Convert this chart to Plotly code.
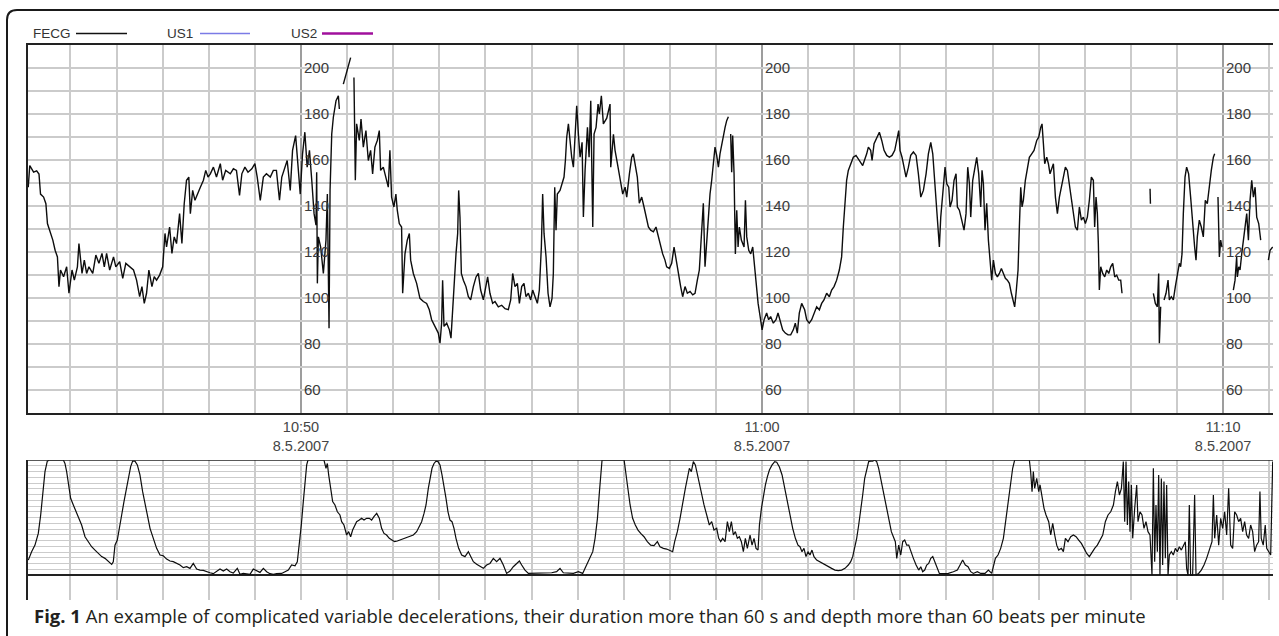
import plotly.graph_objects as go

W, H = 1279, 636

# ---------------- data (time = seconds since 10:44:00, 8.5.2007) ----------------
time_tick_vals = [360, 960, 1560]
time_tick_text = ["10:50<br>8.5.2007", "11:00<br>8.5.2007", "11:10<br>8.5.2007"]
bpm_label_vals = [60, 80, 100, 120, 140, 160, 180, 200]
legend_names = ["FECG", "US1", "US2"]
legend_colors = ["#111111", "#7b7be6", "#a0109c"]
caption_bold = "Fig. 1"
caption_text = ("An example of complicated variable decelerations, their duration more than 60 s "
                "and depth more than 60 beats per minute")

# fetal heart rate (bpm); None marks signal loss
fhr_samples = [
    (5, 148.0), (7, 157.4), (12, 154.5), (16, 155.1), (19, 153.7), (21, 145.0), (25, 143.7),
    (28, 140.8), (30, 132.2), (33, 129.3), (37, 125.0), (40, 120.6), (43, 117.7), (45, 104.8),
    (47, 112.0), (51, 109.1), (55, 113.4), (58, 101.9), (62, 112.0), (65, 107.6), (69, 113.4),
    (71, 123.5), (75, 110.5), (78, 116.3), (81, 110.5), (84, 113.4), (89, 110.5), (93, 118.5),
    (97, 114.9), (101, 119.2), (104, 113.4), (107, 119.2), (111, 112.0), (116, 117.7),
    (119, 113.4), (124, 115.6), (128, 108.4), (132, 114.9), (137, 113.4), (142, 112.0),
    (146, 107.6), (150, 100.4), (153, 104.8), (156, 97.5), (159, 101.9), (162, 112.0),
    (166, 104.8), (169, 109.1), (172, 107.6), (176, 109.8), (180, 113.4), (183, 127.9),
    (185, 122.0), (189, 130.7), (192, 119.2), (195, 126.4), (198, 123.5), (202, 136.5),
    (205, 123.5), (208, 140.8), (211, 151.0), (214, 152.4), (216, 136.5), (219, 146.6),
    (222, 142.3), (225, 145.0), (229, 148.0), (233, 151.0), (236, 155.3), (239, 152.4),
    (242, 153.8), (246, 156.7), (250, 152.4), (255, 158.2), (258, 151.0), (262, 155.3),
    (268, 153.8), (272, 156.0), (276, 155.3), (280, 144.4), (283, 153.8), (287, 156.7),
    (291, 154.5), (296, 156.0), (300, 158.2), (303, 152.4), (307, 142.3), (311, 152.4),
    (315, 153.8), (320, 152.4), (324, 155.3), (328, 155.3), (332, 142.3), (335, 152.4),
    (339, 156.7), (342, 159.6), (346, 146.6), (349, 164.0), (353, 170.4), (356, 156.7),
    (359, 145.0), (362, 162.5), (365, 171.9), (368, 156.7), (371, 164.0), (374, 151.0),
    (377, 136.5), (379.5, 131.5), (380.4, 154.5), (381.3, 106.2), (382.6, 126.4),
    (385.6, 122.0), (389.1, 110.5), (392.5, 125.0), (394.3, 145.0), (396.5, 86.7),
    (397.8, 146.6), (400.0, 171.1), (402.1, 178.4), (405.6, 185.6), (408.6, 187.7),
    (409.9, 182.0), (411, None), (415.1, 192.8), (419.4, 198.6), (424.6, 204.3), (426, None),
    (428.9, 195.7), (430.7, 151.0), (432.4, 175.5), (435.9, 168.3), (438.1, 177.6),
    (441.1, 165.4), (444.5, 172.6), (447.6, 159.6), (450.6, 164.0), (453.2, 153.8),
    (456.2, 165.4), (459.3, 168.3), (461.9, 172.6), (463.6, 155.3), (467.1, 156.7),
    (470.5, 152.4), (473.6, 148.0), (475.7, 164.0), (477.9, 143.7), (480.9, 139.4),
    (483.5, 145.0), (485.3, 138.0), (487.9, 132.2), (490.9, 130.7), (492.3, 101.9),
    (495.3, 119.0), (498.3, 125.0), (501.0, 127.9), (502.7, 116.3), (506.2, 110.5),
    (510.5, 106.2), (514.8, 99.7), (519.2, 98.3), (523.5, 97.5), (527.0, 94.7), (530.0, 90.4),
    (534.4, 87.5), (538.7, 84.6), (540.9, 80.2), (543.0, 88.9), (544.3, 107.6), (546.1, 87.5),
    (549.6, 88.9), (553.1, 86.0), (555.2, 82.4), (557.4, 96.0), (559.6, 107.6), (561.7, 119.0),
    (563.9, 127.9), (565.2, 146.6), (566.9, 135.0), (568.7, 110.5), (571.3, 107.6),
    (574.7, 104.8), (577.8, 100.4), (580.8, 99.0), (584.3, 104.8), (587.8, 109.0),
    (590.8, 110.5), (593.8, 103.3), (597.3, 99.0), (600.3, 104.8), (602.9, 109.0),
    (605.9, 101.9), (609.4, 97.5), (612.5, 98.3), (616.8, 96.0), (621.2, 96.7), (625.5, 95.2),
    (629.8, 94.8), (632.9, 99.0), (635.5, 110.5), (638.5, 104.8), (641.6, 106.2), (644.2, 97.5),
    (647.2, 104.8), (650.2, 106.2), (652.8, 100.4), (655.9, 101.9), (658.9, 99.0),
    (661.5, 103.3), (664.6, 100.4), (667.6, 97.5), (670.2, 103.3), (672.8, 122.0),
    (674.5, 145.0), (676.3, 127.9), (678.9, 117.7), (681.5, 101.9), (684.1, 96.0),
    (686.7, 99.7), (688.4, 110.5), (690.2, 148.0), (691.9, 129.3), (693.6, 145.0),
    (697.1, 146.6), (699.7, 149.5), (702.3, 152.4), (704.1, 159.6), (705.8, 169.7),
    (708.0, 175.5), (710.1, 166.9), (712.3, 161.0), (714.5, 156.7), (716.7, 168.3),
    (718.8, 183.4), (721.0, 171.1), (723.2, 161.0), (725.8, 167.5), (727.5, 135.0),
    (729.7, 155.3), (732.8, 174.0), (734.9, 161.0), (737.1, 185.6), (739.7, 130.7),
    (741.4, 171.1), (744.0, 174.0), (746.6, 184.1), (748.3, 179.8), (750.9, 187.7),
    (753.5, 175.5), (757.9, 178.0), (762.2, 184.1), (763.1, 156.7), (766.6, 171.0),
    (768.7, 164.0), (771.8, 158.2), (775.2, 152.4), (778.7, 145.0), (781.8, 148.0),
    (783.9, 143.7), (787.4, 153.8), (790.4, 161.0), (792.5, 162.5), (795.1, 156.7),
    (797.7, 152.4), (800.3, 141.0), (803.4, 143.7), (806.4, 139.4), (809.0, 135.0),
    (812.1, 130.7), (815.1, 129.3), (818.6, 128.6), (822.0, 130.7), (825.1, 126.4),
    (828.1, 122.0), (830.7, 119.0), (833.7, 116.3), (835.9, 113.4), (839.4, 112.7),
    (842.4, 114.9), (845.5, 122.0), (848.1, 116.3), (851.1, 110.5), (854.1, 104.8),
    (856.7, 100.4), (859.8, 104.8), (862.8, 101.9), (866.3, 102.7), (869.8, 101.2),
    (872.8, 101.9), (875.8, 107.6), (878.4, 112.0), (881.5, 129.3), (883.6, 141.0),
    (885.8, 113.4), (888.0, 125.0), (890.1, 133.7), (892.3, 145.0), (894.5, 151.0),
    (896.7, 159.6), (898.8, 165.4), (901.0, 161.8), (903.2, 156.7), (905.3, 162.5),
    (907.5, 166.9), (909.7, 169.7), (911.9, 174.0), (914.0, 176.9), (916.2, 178.6),
    (917.5, None), (919.2, 171.1), (920.5, 154.5), (921.8, 170.4), (923.6, 153.8),
    (925.3, 119.0), (927.1, 138.0), (928.8, 122.0), (930.5, 130.7), (933.1, 125.0),
    (936.6, 122.0), (938.4, 142.3), (940.1, 126.4), (942.7, 120.6), (945.3, 119.0),
    (947.9, 122.0), (949.6, 116.3), (952.3, 104.8), (954.9, 97.5), (957.5, 91.8),
    (960.1, 86.0), (962.7, 90.4), (966.0, 93.3), (968.6, 90.4), (971.2, 91.8), (974.7, 88.9),
    (978.2, 90.4), (980.8, 93.3), (983.4, 90.4), (986.9, 86.0), (990.3, 84.6), (993.8, 83.8),
    (997.3, 83.8), (1000.7, 86.0), (1003.3, 88.9), (1005.9, 84.6), (1008.5, 93.3),
    (1011.6, 97.5), (1013.7, 96.0), (1015.5, 94.7), (1018.1, 90.4), (1021.5, 88.9),
    (1024.6, 90.4), (1027.6, 93.3), (1031.1, 96.0), (1034.6, 94.7), (1037.6, 97.5),
    (1040.6, 99.0), (1044.1, 101.9), (1047.6, 100.4), (1050.6, 103.3), (1053.7, 104.8),
    (1057.1, 107.6), (1060.6, 112.0), (1063.6, 117.7), (1065.8, 130.7), (1068.0, 142.3),
    (1070.1, 151.0), (1072.3, 155.3), (1075.4, 158.2), (1078.8, 161.0), (1082.3, 161.8),
    (1085.3, 160.3), (1088.4, 158.9), (1091.0, 157.4), (1096.2, 162.5), (1098.4, 165.4),
    (1101.4, 164.0), (1103.2, 159.6), (1105.8, 166.9), (1109.2, 169.7), (1112.7, 171.9),
    (1115.8, 168.3), (1118.8, 164.0), (1122.3, 161.8), (1125.7, 161.0), (1129.2, 161.8),
    (1132.7, 164.0), (1135.3, 168.3), (1137.9, 172.6), (1139.6, 164.0), (1142.2, 161.0),
    (1144.8, 156.7), (1147.4, 152.4), (1150.5, 156.7), (1153.5, 161.8), (1157.0, 163.3),
    (1160.5, 161.8), (1163.5, 153.8), (1166.6, 143.7), (1170.0, 146.6), (1173.5, 153.8),
    (1176.5, 162.5), (1179.6, 167.5), (1182.2, 162.5), (1184.8, 151.0), (1187.4, 136.5),
    (1189.1, 132.2), (1190.8, 122.0), (1192.6, 135.0), (1195.2, 145.0), (1198.2, 156.7),
    (1200.4, 149.5), (1203.0, 148.0), (1204.7, 139.4), (1207.3, 142.3), (1209.9, 151.0),
    (1212.5, 153.8), (1214.2, 139.4), (1216.8, 138.0), (1219.9, 133.7), (1222.9, 129.3),
    (1225.5, 136.5), (1227.7, 156.7), (1229.9, 149.5), (1231.6, 135.0), (1234.2, 151.0),
    (1236.8, 155.3), (1239.4, 161.0), (1242.0, 153.8), (1244.6, 139.4), (1246.3, 155.3),
    (1248.1, 149.5), (1250.2, 129.3), (1252.4, 141.0), (1254.6, 125.0), (1256.7, 117.7),
    (1258.9, 107.6), (1261.1, 116.3), (1263.7, 110.5), (1266.3, 109.0), (1268.9, 110.5),
    (1271.5, 112.7), (1274.1, 110.5), (1276.7, 108.4), (1279.3, 107.6), (1281.9, 106.2),
    (1284.5, 101.9), (1287.1, 97.5), (1288.8, 96.0), (1290.6, 101.9), (1293.2, 112.0),
    (1294.9, 130.7), (1296.7, 148.0), (1298.4, 139.4), (1300.1, 142.3), (1302.7, 151.0),
    (1305.3, 156.7), (1307.9, 161.0), (1311.0, 162.5), (1314.0, 164.0), (1317.5, 168.3),
    (1320.1, 169.7), (1322.7, 174.0), (1324.4, 175.5), (1326.2, 166.9), (1327.9, 158.2),
    (1330.5, 161.0), (1332.7, 158.2), (1334.8, 153.8), (1337.4, 156.7), (1339.2, 158.2),
    (1341.8, 143.7), (1344.4, 136.5), (1347.0, 143.7), (1349.6, 148.0), (1352.2, 151.0),
    (1354.8, 156.7), (1357.4, 155.3), (1360.0, 149.5), (1363.0, 142.3), (1365.2, 136.5),
    (1367.8, 130.7), (1370.4, 129.3), (1373.0, 139.4), (1375.6, 133.7), (1378.2, 135.0),
    (1380.8, 132.2), (1383.4, 135.0), (1386.0, 142.3), (1388.6, 152.4), (1391.2, 151.0),
    (1392.9, 130.7), (1394.7, 143.7), (1396.4, 136.5), (1397.7, 123.5), (1399.0, 103.3),
    (1400.8, 113.4), (1403.4, 110.5), (1406.0, 109.0), (1408.6, 112.0), (1411.2, 110.5),
    (1413.8, 113.4), (1416.4, 114.9), (1419.0, 109.0), (1421.6, 109.8), (1424.2, 107.6),
    (1426.8, 107.6), (1428.5, 101.9), (1440, None),
    (1465.0, 147.3), (1465.5, 140.8), (1467, None),
    (1469.3, 101.9), (1471.9, 97.5), (1474.5, 96.0), (1476.2, 110.5), (1477.1, 80.2),
    (1478.8, 96.0), (1481, None),
    (1483.2, 99.0), (1485.8, 101.9), (1488.4, 107.6), (1490.1, 99.0), (1492.7, 100.4),
    (1495.3, 99.0), (1497.9, 104.8), (1500.5, 110.5), (1503.1, 114.9), (1504.8, 113.4),
    (1506.6, 119.0), (1508.3, 136.5), (1510.5, 152.4), (1512.6, 156.7), (1515.2, 153.8),
    (1517.8, 143.7), (1520.4, 130.7), (1523.0, 122.0), (1524.8, 116.3), (1526.5, 126.4),
    (1529.1, 133.7), (1531.7, 130.7), (1534.3, 126.4), (1536.9, 142.3), (1539.5, 140.8),
    (1542.1, 149.5), (1544.7, 155.3), (1547.4, 161.0), (1549.1, 162.5), (1551, None),
    (1553.4, 143.7), (1555.2, 117.7), (1556.9, 125.0), (1558.6, 122.0), (1565, None),
    (1573.4, 103.3), (1575.6, 107.6), (1577.7, 117.7), (1578.6, 109.0), (1580.4, 113.4),
    (1582.1, 112.0), (1584.3, 119.0), (1586.5, 125.0), (1588.6, 132.2), (1590.8, 136.5),
    (1593.0, 125.0), (1595.1, 142.3), (1597.3, 151.0), (1599.5, 143.7), (1601.7, 148.0),
    (1603.8, 135.0), (1606.4, 132.2), (1609.0, 125.0), (1614, None),
    (1619.0, 116.3), (1621.2, 120.6), (1624.6, 122.0),
]

# uterine activity (tocodynamometry units, 0-100)
toco_samples = [
    (5.1, 13.0), (9.4, 20.3), (13.8, 26.0), (18.1, 36.2), (21.2, 52.2), (23.8, 69.6),
    (26.8, 89.9), (29.8, 99.0), (32.4, 100.0), (50.7, 100.0), (52.8, 97.0), (55.0, 89.9),
    (57.2, 78.3), (60.2, 66.7), (63.7, 60.9), (67.2, 55.0), (70.2, 49.3), (74.5, 43.5),
    (78.9, 33.3), (83.2, 29.0), (87.5, 24.6), (91.9, 21.7), (96.2, 18.8), (100.6, 16.0),
    (104.9, 14.5), (109.2, 11.6), (113.6, 9.3), (115.7, 11.6), (117.9, 26.0), (120.9, 30.4),
    (123.5, 39.1), (126.6, 52.2), (129.6, 63.8), (133.1, 75.4), (135.7, 87.0), (138.3, 94.2),
    (140.9, 99.0), (143.9, 99.0), (147.0, 95.7), (150.4, 87.0), (153.9, 72.5), (156.9, 60.9),
    (160.0, 52.2), (163.5, 40.6), (167.8, 31.9), (172.1, 23.2), (176.5, 17.4), (180.8, 16.8),
    (185.1, 13.9), (189.5, 12.2), (193.8, 11.6), (198.2, 10.1), (202.5, 8.7), (206.8, 6.4),
    (211.2, 7.2), (215.5, 5.8), (219.8, 10.1), (224.2, 5.2), (228.5, 4.3), (232.9, 4.1),
    (237.2, 2.9), (241.5, 2.0), (245.9, 1.2), (250.2, 2.9), (254.6, 5.2), (258.9, 3.5),
    (263.2, 5.2), (267.6, 2.9), (271.9, 1.7), (277.1, 5.8), (280.6, 0.6), (284.9, 1.4),
    (289.3, 1.2), (293.6, 0.6), (297.9, 5.2), (302.3, 3.5), (306.6, 2.3), (311.0, 5.8),
    (315.3, 2.9), (319.6, 1.2), (324.0, 0.6), (328.3, 1.2), (334.8, 1.4), (339.2, 2.9),
    (343.5, 4.3), (347.8, 8.7), (352.2, 8.1), (355.2, 11.6), (357.8, 26.0), (360.4, 43.5),
    (363.0, 63.8), (365.2, 84.0), (367.4, 95.7), (369.1, 100.0), (389.9, 100.0), (392.5, 92.8),
    (394.3, 97.0), (396.0, 87.0), (398.6, 75.4), (401.2, 63.8), (404.2, 60.9), (407.3, 55.0),
    (410.7, 52.2), (412.9, 46.4), (415.9, 43.5), (419.4, 34.8), (422.0, 37.7), (424.6, 33.3),
    (427.2, 39.1), (429.8, 43.5), (432.4, 46.4), (435.9, 47.8), (438.9, 49.3), (442.0, 47.8),
    (445.4, 49.3), (448.9, 49.3), (451.9, 47.8), (454.9, 50.7), (458.5, 53.6), (461.9, 49.3),
    (464.9, 40.6), (468.0, 36.2), (471.4, 34.8), (474.9, 31.9), (478.4, 30.4), (481.8, 29.0),
    (485.3, 29.6), (488.8, 30.4), (493.1, 31.9), (497.5, 32.5), (501.8, 33.3), (506.2, 34.8),
    (510.5, 37.7), (514.0, 42.0), (517.0, 46.4), (520.1, 53.6), (522.7, 60.9), (525.7, 75.4),
    (527.9, 84.0), (530.5, 92.8), (533.1, 97.0), (535.7, 99.0), (538.3, 98.6), (540.9, 95.7),
    (543.5, 87.0), (546.1, 78.3), (548.7, 66.7), (551.3, 55.0), (553.9, 47.8), (556.5, 46.4),
    (559.1, 40.6), (561.7, 31.9), (565.2, 23.2), (569.1, 17.4), (573.4, 16.0), (577.8, 20.3),
    (580.8, 16.0), (584.3, 11.6), (588.6, 9.3), (592.9, 7.2), (597.3, 5.8), (601.6, 8.7),
    (605.9, 10.1), (610.3, 14.5), (614.6, 11.6), (619.0, 14.5), (623.3, 8.7), (627.6, 1.4),
    (632.0, 3.5), (636.3, 7.2), (640.7, 10.1), (644.2, 12.2), (647.2, 8.7), (651.5, 4.3),
    (655.9, 1.4), (660.2, 1.4), (666.7, 2.0), (673.2, 1.4), (679.7, 1.4), (686.2, 2.0),
    (692.7, 2.9), (697.1, 5.8), (701.4, 2.0), (707.9, 1.4), (714.5, 1.4), (721.0, 2.9),
    (726.6, 1.4), (729.7, 5.8), (732.8, 10.1), (736.2, 16.0), (739.7, 20.3), (742.7, 31.9),
    (745.8, 49.3), (748.4, 72.5), (750.1, 87.0), (751.8, 100.0), (780.5, 100.0), (782.2, 89.9),
    (784.8, 78.3), (788.3, 60.9), (791.6, 49.3), (795.1, 43.5), (798.6, 39.1), (802.1, 36.2),
    (806.4, 33.3), (810.7, 29.0), (815.1, 26.0), (819.4, 25.5), (823.8, 29.0), (827.2, 24.6),
    (831.6, 23.2), (835.9, 22.6), (840.2, 21.7), (843.7, 20.3), (846.3, 29.0), (849.8, 37.7),
    (853.3, 49.3), (856.7, 63.8), (860.2, 75.4), (862.8, 84.0), (865.4, 92.8), (868.0, 89.9),
    (870.6, 98.6), (873.2, 95.7), (875.8, 87.0), (878.4, 78.3), (881.5, 69.6), (884.5, 60.9),
    (888.0, 52.2), (891.4, 43.5), (894.5, 46.4), (897.5, 39.1), (901.0, 40.6), (903.6, 31.9),
    (906.2, 29.0), (908.8, 31.9), (911.9, 29.0), (914.9, 46.4), (917.5, 37.7), (920.1, 46.4),
    (922.7, 34.8), (925.3, 37.7), (927.9, 31.9), (930.5, 33.3), (933.1, 29.0), (935.7, 20.3),
    (938.3, 31.9), (940.9, 23.2), (944.4, 34.8), (947.0, 26.0), (949.6, 31.9), (952.2, 23.2),
    (954.8, 21.7), (956.6, 43.5), (959.2, 58.0), (961.8, 69.6), (964.4, 78.3), (967.0, 85.5),
    (969.6, 91.3), (973.1, 95.7), (976.5, 98.6), (979.1, 98.0), (982.6, 93.9), (986.1, 87.0),
    (989.5, 75.4), (993.0, 63.8), (996.5, 52.2), (999.9, 40.6), (1003.4, 31.9), (1006.8, 26.0),
    (1009.4, 24.6), (1012.0, 20.3), (1014.6, 23.2), (1017.2, 16.0), (1019.8, 20.3),
    (1022.4, 17.4), (1025.0, 21.7), (1027.6, 16.0), (1031.1, 13.0), (1034.6, 11.6),
    (1038.0, 10.1), (1041.9, 8.7), (1046.3, 7.2), (1050.6, 5.8), (1054.9, 4.3), (1059.3, 3.8),
    (1063.6, 4.3), (1068.0, 5.8), (1072.3, 8.7), (1075.4, 11.6), (1078.0, 16.0), (1080.6, 23.2),
    (1083.2, 31.9), (1085.8, 43.5), (1088.4, 55.0), (1091.0, 69.6), (1093.6, 84.0),
    (1096.2, 92.8), (1098.8, 98.6), (1101.4, 99.0), (1104.0, 99.0), (1106.6, 100.0),
    (1109.2, 98.6), (1111.8, 92.8), (1114.4, 84.0), (1117.9, 72.5), (1121.4, 60.9),
    (1124.8, 49.3), (1128.3, 37.7), (1130.9, 33.3), (1133.5, 29.0), (1135.3, 14.5),
    (1137.9, 26.0), (1140.5, 17.4), (1143.1, 29.0), (1145.7, 30.4), (1148.3, 26.0),
    (1150.9, 26.0), (1153.5, 20.3), (1157.0, 14.5), (1160.5, 8.7), (1163.9, 4.3), (1166.6, 7.2),
    (1169.1, 2.9), (1171.7, 4.3), (1174.3, 8.7), (1176.9, 10.1), (1179.6, 14.5), (1182.2, 16.0),
    (1184.8, 11.6), (1187.4, 5.8), (1190.8, 1.4), (1196.0, 1.2), (1202.5, 1.4), (1209.0, 2.9),
    (1214.2, 4.3), (1217.7, 8.7), (1221.1, 13.0), (1224.6, 8.7), (1228.1, 7.2), (1231.6, 2.9),
    (1235.0, 1.4), (1240.2, 2.9), (1244.6, 1.4), (1250.2, 1.4), (1254.6, 4.3), (1258.9, 1.4),
    (1261.1, 8.7), (1263.7, 14.5), (1267.1, 17.4), (1270.6, 23.2), (1274.1, 31.9),
    (1278.4, 52.2), (1282.7, 75.4), (1286.2, 92.8), (1288.8, 100.0), (1307.9, 100.0),
    (1309.6, 89.9), (1311.4, 72.5), (1313.1, 89.9), (1314.8, 75.4), (1317.5, 84.0),
    (1320.1, 72.5), (1321.8, 78.3), (1324.4, 66.7), (1327.0, 58.0), (1329.6, 52.2),
    (1333.1, 46.4), (1335.7, 34.8), (1338.3, 44.9), (1340.9, 34.8), (1343.5, 26.0),
    (1346.1, 21.7), (1349.6, 23.2), (1352.2, 20.3), (1354.8, 31.9), (1358.2, 29.0),
    (1361.7, 33.3), (1365.2, 34.8), (1368.7, 33.3), (1372.1, 30.4), (1375.6, 27.5),
    (1379.1, 23.2), (1382.5, 18.8), (1386.0, 16.0), (1389.5, 20.3), (1392.9, 23.2),
    (1396.4, 26.0), (1399.9, 30.4), (1403.4, 34.8), (1406.8, 46.4), (1410.3, 52.2),
    (1413.8, 55.0), (1417.3, 60.9), (1419.9, 72.5), (1422.5, 81.2), (1425.1, 69.6),
    (1427.7, 75.4), (1430.2, 98.6), (1432.0, 46.4), (1433.7, 98.6), (1435.5, 43.5),
    (1437.2, 81.2), (1438.9, 37.7), (1440.7, 78.3), (1442.4, 31.9), (1445.0, 58.0),
    (1447.6, 78.3), (1449.3, 46.4), (1451.9, 55.0), (1454.5, 52.2), (1457.1, 40.6),
    (1459.7, 46.4), (1462.3, 37.7), (1464.9, 34.8), (1467.5, 0.0), (1469.3, 92.8),
    (1471.0, 11.6), (1472.7, 60.9), (1474.5, 20.3), (1476.2, 87.0), (1477.9, 0.0),
    (1479.7, 84.0), (1481.4, 8.7), (1483.1, 81.2), (1484.9, 14.5), (1486.6, 78.3),
    (1488.4, 0.0), (1490.1, 17.4), (1492.7, 20.3), (1495.3, 17.4), (1497.9, 23.2),
    (1500.5, 20.3), (1503.1, 24.6), (1505.7, 21.7), (1508.3, 26.0), (1510.9, 29.0),
    (1512.6, 5.8), (1514.4, 0.0), (1516.1, 60.9), (1517.8, 0.0), (1520.4, 0.0), (1523.0, 69.6),
    (1524.8, 0.0), (1528.2, 1.4), (1531.7, 4.3), (1535.2, 8.7), (1538.6, 14.5), (1542.1, 21.7),
    (1545.6, 29.0), (1547.4, 69.6), (1549.1, 31.9), (1551.7, 52.2), (1554.3, 26.0),
    (1556.9, 49.3), (1559.5, 40.6), (1562.1, 55.0), (1564.7, 34.8), (1567.3, 75.4),
    (1569.9, 26.0), (1572.5, 23.2), (1575.1, 55.0), (1577.7, 52.2), (1580.3, 46.4),
    (1582.9, 49.3), (1585.5, 37.7), (1588.1, 46.4), (1590.7, 34.8), (1593.3, 31.9),
    (1595.9, 43.5), (1598.5, 37.7), (1601.1, 20.3), (1603.7, 26.0), (1606.3, 29.0),
    (1608.0, 72.5), (1609.7, 31.9), (1612.3, 26.0), (1614.9, 43.5), (1616.8, 23.2),
    (1619.4, 20.3), (1622.0, 17.4), (1624.6, 98.6),
]

time_range = [4.7, 1625]
fhr_range = [50, 210]
toco_range = [-21.7, 100]

# ---------------- figure ----------------
fhr_t = [p[0] for p in fhr_samples]
fhr_v = [p[1] for p in fhr_samples]
toco_t = [p[0] for p in toco_samples]
toco_v = [p[1] for p in toco_samples]


def px(x):
    return x / W


def py(y):
    return 1 - y / H


fig = go.Figure()
fig.add_trace(go.Scatter(x=fhr_t, y=fhr_v, mode="lines", connectgaps=False,
                         line=dict(color="#0d0d0d", width=1.4), xaxis="x", yaxis="y",
                         showlegend=False, hoverinfo="skip"))
fig.add_trace(go.Scatter(x=toco_t, y=toco_v, mode="lines",
                         line=dict(color="#0d0d0d", width=1.2), xaxis="x2", yaxis="y2",
                         showlegend=False, hoverinfo="skip"))

LIGHT = "#cbcbcb"
MAJOR = "#9d9d9d"
BORDER = "#222222"
x_dom = [px(28), px(1273)]

fig.update_layout(
    width=W, height=H, margin=dict(l=0, r=0, t=0, b=0),
    paper_bgcolor="white", plot_bgcolor="white",
    xaxis=dict(domain=x_dom, range=time_range, anchor="y",
               tickmode="array", tickvals=time_tick_vals, ticktext=time_tick_text,
               showgrid=True, gridcolor=MAJOR, gridwidth=1.5,
               minor=dict(tickmode="linear", tick0=0, dtick=60, showgrid=True,
                          gridcolor=LIGHT, gridwidth=1.5, ticks=""),
               showline=True, mirror=True, linecolor=BORDER, linewidth=1.5,
               zeroline=False, ticks="",
               tickfont=dict(family="Liberation Sans, Arial", size=14.5, color="#454545")),
    yaxis=dict(domain=[py(412.7), py(44.5)], range=fhr_range, anchor="x",
               tick0=0, dtick=10, showgrid=True, gridcolor=LIGHT, gridwidth=1.5,
               showticklabels=False, showline=True, linecolor=BORDER, linewidth=1.5,
               zeroline=False, ticks=""),
    xaxis2=dict(domain=x_dom, range=time_range, anchor="y2",
                tick0=0, dtick=60, showgrid=True, gridcolor=LIGHT, gridwidth=1.5,
                showticklabels=False, showline=False, zeroline=False, ticks=""),
    yaxis2=dict(domain=[py(600), py(460)], range=toco_range, anchor="x2",
                tickmode="array", tickvals=list(range(0, 101, 5)),
                showgrid=True, gridcolor=LIGHT, gridwidth=1.2, showticklabels=False,
                zeroline=True, zerolinecolor=BORDER, zerolinewidth=1.5,
                showline=True, linecolor=BORDER, linewidth=1.5, ticks=""),
)

shapes = []
# top border of the contraction panel
shapes.append(dict(type="line", xref="x2 domain", x0=0, x1=1, yref="y2", y0=100, y1=100,
                   line=dict(color=BORDER, width=1.5)))
# outer rounded frame
frame = (f"M {px(7)},{py(700)} L {px(7)},{py(20)} Q {px(7)},{py(10)} {px(17)},{py(10)} "
         f"L {px(1300)},{py(10)}")
shapes.append(dict(type="path", xref="paper", yref="paper", path=frame,
                   line=dict(color="#1a1a1a", width=2)))

annotations = []
# legend header
leg_text_right = [72, 194, 318]
leg_line = [(76, 127), (200, 250), (322, 373)]
leg_width = [1.3, 1.3, 2.5]
for name, col, tr, (l0, l1), lw in zip(legend_names, legend_colors, leg_text_right, leg_line, leg_width):
    annotations.append(dict(text=name, xref="paper", yref="paper", x=px(tr + 1), y=py(33),
                            xanchor="right", yanchor="middle", showarrow=False,
                            font=dict(family="Liberation Sans, Arial", size=13.5, color="#333333")))
    shapes.append(dict(type="line", xref="paper", yref="paper", x0=px(l0), x1=px(l1),
                       y0=py(33.5), y1=py(33.5), line=dict(color=col, width=lw)))

# bpm scale labels printed at each 10-minute line
for tv in time_tick_vals:
    for v in bpm_label_vals:
        annotations.append(dict(text=str(v), xref="x", yref="y", x=tv, y=v, xanchor="left",
                                yanchor="middle", xshift=1, showarrow=False,
                                font=dict(family="Liberation Sans, Arial", size=15, color="#3a3a3a")))

# caption
annotations.append(dict(text=f"<b>{caption_bold}</b> {caption_text}", xref="paper", yref="paper",
                        x=px(32), y=py(615), xanchor="left", yanchor="middle", showarrow=False,
                        font=dict(family="Open Sans", size=18.5, color="#231f20")))

fig.update_layout(shapes=shapes, annotations=annotations)

fig.write_html("out.html", config={"displayModeBar": False},
               post_script="document.body.style.margin='0px';document.body.style.overflow='hidden';")
